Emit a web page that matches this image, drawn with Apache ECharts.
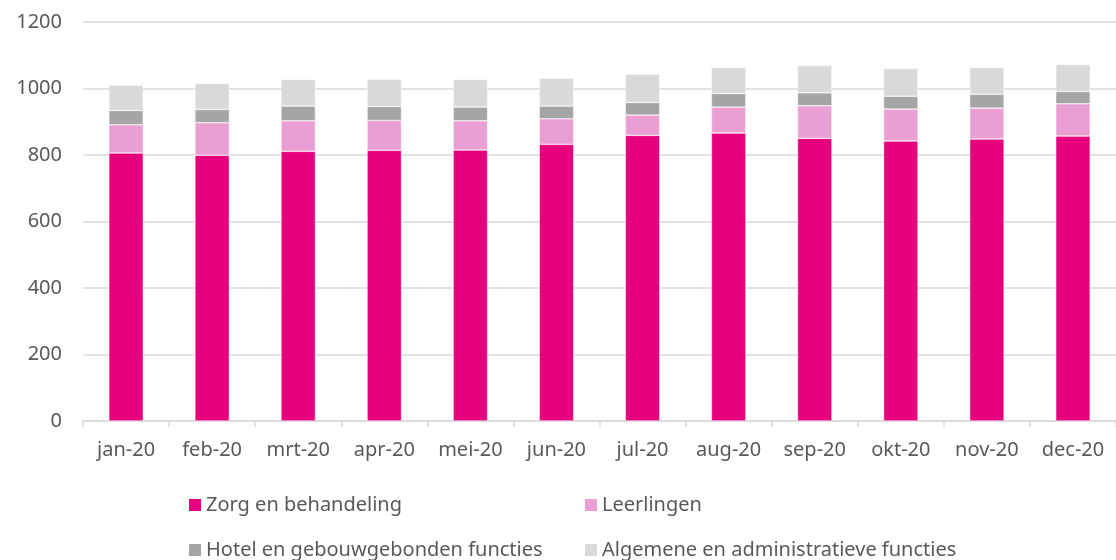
<!DOCTYPE html>
<html>
<head>
<meta charset="utf-8">
<script src="https://cdn.jsdelivr.net/npm/echarts@6/dist/echarts.min.js"></script>
<style>
  html, body { margin: 0; padding: 0; background: #fff; }
  #chart { width: 1116px; height: 560px; }
</style>
</head>
<body>
<div id="chart"></div>
<script>
  const months = ["jan-20", "feb-20", "mrt-20", "apr-20", "mei-20", "jun-20", "jul-20", "aug-20", "sep-20", "okt-20", "nov-20", "dec-20"];
  const zorg = [806, 799, 811, 814, 815, 832, 859, 866, 850, 842, 848, 857];
  const leerlingen = [85, 98, 92, 90, 88, 77, 61, 78, 98, 96, 93, 97];
  const hotel = [43, 40, 44, 42, 41, 38, 38, 41, 39, 39, 42, 37];
  const algemeen = [76, 78, 80, 82, 83, 84, 85, 78, 82, 83, 80, 81];
  const seriesNames = ["Zorg en behandeling", "Leerlingen", "Hotel en gebouwgebonden functies", "Algemene en administratieve functies"];

  const font = "'Noto Sans', sans-serif";
  const textColor = "#595959";

  const chart = echarts.init(document.getElementById("chart"));

  function bar(name, data, color) {
    return {
      name: name,
      type: "bar",
      stack: "total",
      barWidth: "40%",
      data: data,
      itemStyle: { color: color, borderColor: "#ffffff", borderWidth: 0.5 },
    };
  }

  // one legend per item so the two columns line up like the original
  const legendPos = [[187, 495], [583, 495], [187, 540], [583, 540]];
  const legends = seriesNames.map((name, i) => ({
    left: legendPos[i][0],
    top: legendPos[i][1],
    padding: 0,
    itemWidth: 14,
    itemHeight: 14,
    itemGap: 0,
    icon: "rect",
    textStyle: { color: textColor, fontFamily: font, fontSize: 20, lineHeight: 20, padding: [0, 0, 0, -1] },
    data: [name],
  }));

  chart.setOption({
    backgroundColor: "#ffffff",
    animation: false,
    grid: { left: 83, top: 22, width: 1039, height: 399 },
    legend: legends,
    xAxis: {
      type: "category",
      data: months,
      axisLine: { lineStyle: { color: "#d9d9d9", width: 1.5 } },
      axisTick: { show: true, length: 6, lineStyle: { color: "#d9d9d9", width: 1.5 } },
      axisLabel: { color: textColor, fontFamily: font, fontSize: 20, margin: 19 },
    },
    yAxis: {
      type: "value",
      min: 0,
      max: 1200,
      interval: 200,
      axisLine: { show: false },
      axisTick: { show: false },
      splitLine: { lineStyle: { color: "#d9d9d9", width: 1.5 } },
      axisLabel: { color: textColor, fontFamily: font, fontSize: 20, margin: 21, formatter: (v) => String(v) },
    },
    series: [
      bar(seriesNames[0], zorg, "#e6007e"),
      bar(seriesNames[1], leerlingen, "#e99fd3"),
      bar(seriesNames[2], hotel, "#a5a5a5"),
      bar(seriesNames[3], algemeen, "#d9d9d9"),
    ],
  });
</script>
</body>
</html>
